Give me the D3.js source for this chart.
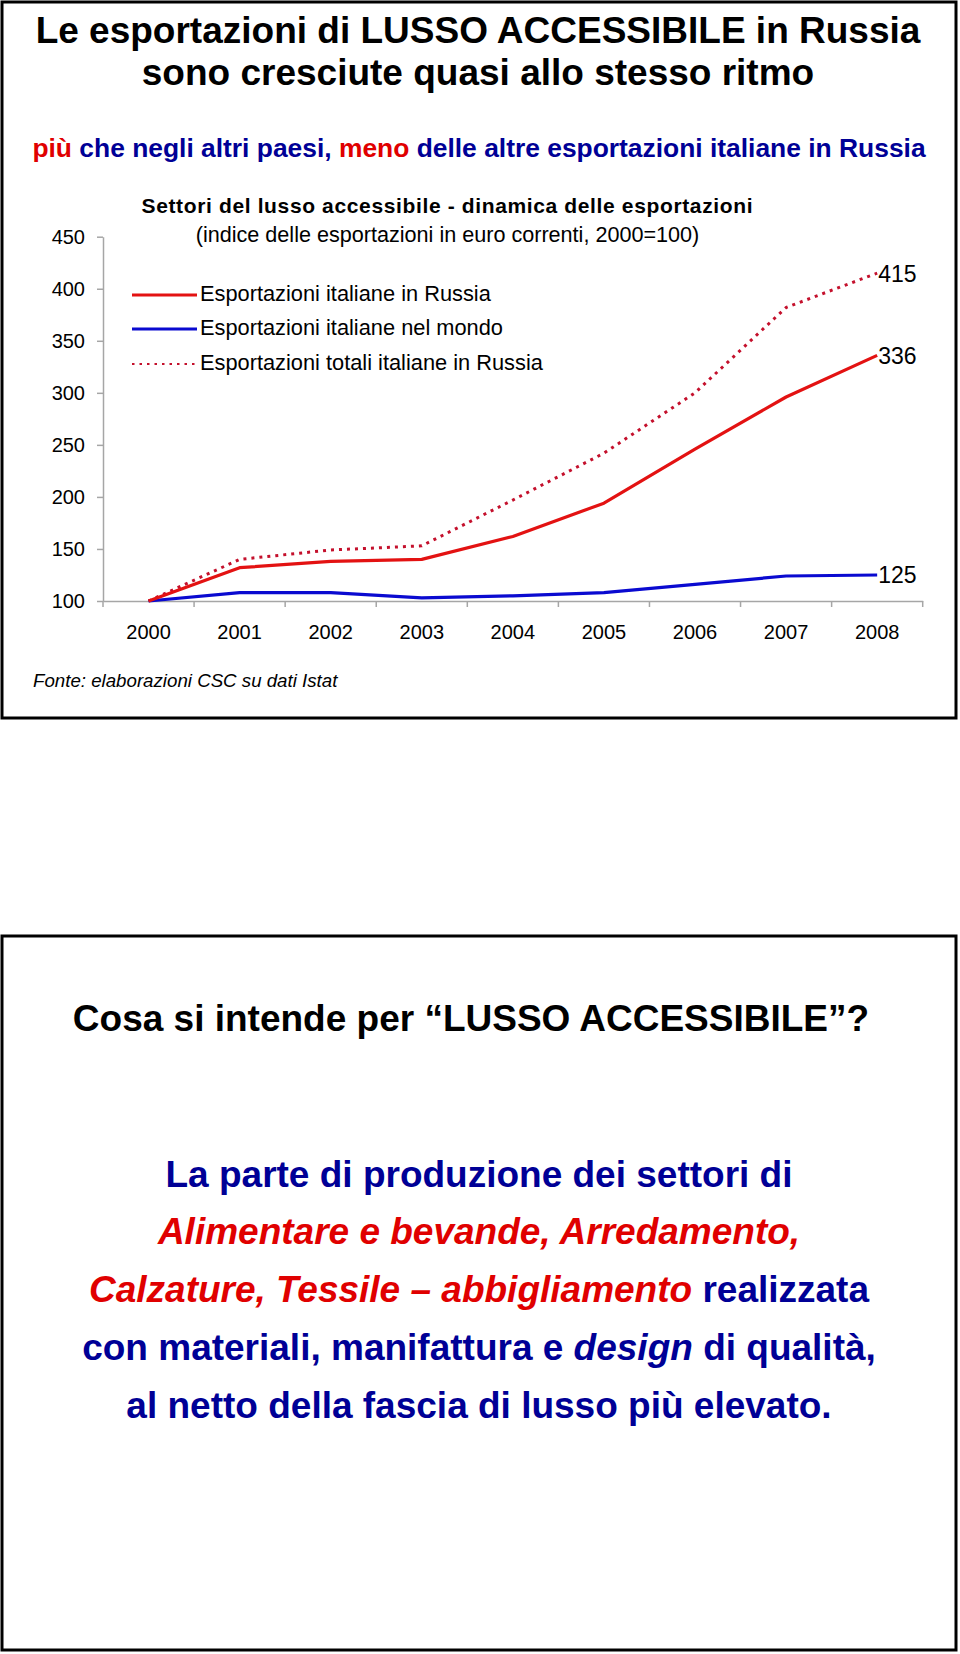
<!DOCTYPE html>
<html>
<head>
<meta charset="utf-8">
<script src="https://cdn.jsdelivr.net/npm/d3@7"></script>
<style>
  html, body { margin: 0; padding: 0; background: #fff; }
  svg { display: block; font-family: "Liberation Sans", Arial, sans-serif; }
</style>
</head>
<body>
<div id="chart"></div>
<script>
// values (index, 2000 = 100)
const years = ['2000', '2001', '2002', '2003', '2004', '2005', '2006', '2007', '2008'];
const russiaLusso = [100, 132, 138, 140, 162, 194, 246, 296, 336];
const mondoLusso = [100, 108, 108, 103, 105, 108, 116, 124, 125];
const russiaTotale = [100, 140, 149, 153, 197, 242, 300, 382, 415];
const yTicks = [100, 150, 200, 250, 300, 350, 400, 450];

const seriesNames = [
  'Esportazioni italiane in Russia',
  'Esportazioni italiane nel mondo',
  'Esportazioni totali italiane in Russia'
];

const RED = '#e31212';
const BLUE = '#0a0ad0';
const DOT_RED = '#c4102c';
const NAVY = '#000096';
const TXT_RED = '#e00000';

const W = 960, H = 1654;

const svg = d3.select('#chart')
  .append('svg')
  .attr('width', W)
  .attr('height', H);

// ---- panel frames
svg.append('rect')
  .attr('x', 2).attr('y', 2)
  .attr('width', 954).attr('height', 716)
  .attr('fill', 'none').attr('stroke', '#000').attr('stroke-width', 3);

svg.append('rect')
  .attr('x', 2).attr('y', 936)
  .attr('width', 954).attr('height', 714)
  .attr('fill', 'none').attr('stroke', '#000').attr('stroke-width', 3);

// ---- headings of the top panel
svg.append('text')
  .attr('x', 478).attr('y', 43)
  .attr('text-anchor', 'middle')
  .attr('font-size', 37).attr('font-weight', 'bold')
  .text('Le esportazioni di LUSSO ACCESSIBILE in Russia');

svg.append('text')
  .attr('x', 478).attr('y', 85)
  .attr('text-anchor', 'middle')
  .attr('font-size', 37).attr('font-weight', 'bold')
  .text('sono cresciute quasi allo stesso ritmo');

const sub = svg.append('text')
  .attr('x', 479).attr('y', 157)
  .attr('text-anchor', 'middle')
  .attr('font-size', 26.4).attr('font-weight', 'bold');
[['più', TXT_RED], [' che negli altri paesi, ', NAVY], ['meno', TXT_RED],
 [' delle altre esportazioni italiane in Russia', NAVY]]
  .forEach(([t, c]) => sub.append('tspan').attr('fill', c).text(t));

// ---- chart
const x = d3.scaleBand().domain(years).range([103, 922.7]);
const y = d3.scaleLinear().domain([100, 450]).range([601, 236.7]);

svg.append('text')
  .attr('x', 447).attr('y', 213)
  .attr('text-anchor', 'middle')
  .attr('font-size', 21).attr('font-weight', 'bold')
  .attr('textLength', 611).attr('lengthAdjust', 'spacing')
  .text('Settori del lusso accessibile - dinamica delle esportazioni');

svg.append('text')
  .attr('x', 447.5).attr('y', 241.5)
  .attr('text-anchor', 'middle')
  .attr('font-size', 21.6)
  .text('(indice delle esportazioni in euro correnti, 2000=100)');

// y axis
const yAxis = svg.append('g')
  .attr('transform', 'translate(103,0)')
  .call(d3.axisLeft(y).tickValues(yTicks).tickSize(6).tickSizeOuter(0).tickPadding(12));
yAxis.select('.domain').attr('stroke', '#a6a6a6').attr('stroke-width', 1.5);
yAxis.selectAll('.tick line').attr('stroke', '#a6a6a6').attr('stroke-width', 1.5);
yAxis.selectAll('.tick text')
  .attr('font-size', 20).attr('fill', '#000')
  .attr('font-family', '"Liberation Sans", Arial, sans-serif');

// x axis: labels centred in each band, ticks on the band edges
const xAxis = svg.append('g')
  .attr('transform', 'translate(0,601)')
  .call(d3.axisBottom(x).tickSize(0).tickSizeOuter(0).tickPadding(24));
xAxis.select('.domain').attr('stroke', '#a6a6a6').attr('stroke-width', 1.5);
xAxis.selectAll('.tick text')
  .attr('font-size', 20).attr('fill', '#000')
  .attr('font-family', '"Liberation Sans", Arial, sans-serif');

const edges = years.map(d => x(d)).concat([x(years[years.length - 1]) + x.bandwidth()]);
svg.append('g').selectAll('line')
  .data(edges)
  .enter()
  .append('line')
  .attr('x1', d => d).attr('x2', d => d)
  .attr('y1', 601).attr('y2', 607)
  .attr('stroke', '#a6a6a6').attr('stroke-width', 1.5);

// lines
const cx = i => x(years[i]) + x.bandwidth() / 2;
const line = d3.line().x((d, i) => cx(i)).y(d => y(d));

const series = [
  { values: russiaTotale, color: DOT_RED, width: 3, dash: '3,5' },
  { values: mondoLusso, color: BLUE, width: 3.2, dash: null },
  { values: russiaLusso, color: RED, width: 3.2, dash: null }
];

svg.append('g').selectAll('path')
  .data(series)
  .enter()
  .append('path')
  .attr('d', d => line(d.values))
  .attr('fill', 'none')
  .attr('stroke', d => d.color)
  .attr('stroke-width', d => d.width)
  .attr('stroke-dasharray', d => d.dash)
  .attr('stroke-linejoin', 'round');

// end labels
const last = years.length - 1;
svg.append('g').selectAll('text')
  .data([russiaTotale[last], russiaLusso[last], mondoLusso[last]])
  .enter()
  .append('text')
  .attr('x', cx(last) + 1)
  .attr('y', d => y(d))
  .attr('dy', '0.37em')
  .attr('font-size', 23)
  .text(d => d);

// legend
const legend = [
  { name: seriesNames[0], color: RED, width: 3.2, dash: null, y: 295 },
  { name: seriesNames[1], color: BLUE, width: 3.2, dash: null, y: 329 },
  { name: seriesNames[2], color: DOT_RED, width: 2, dash: '2.5,5', y: 364 }
];
const lg = svg.append('g').selectAll('g')
  .data(legend)
  .enter()
  .append('g');
lg.append('line')
  .attr('x1', 132).attr('x2', 197)
  .attr('y1', d => d.y).attr('y2', d => d.y)
  .attr('stroke', d => d.color)
  .attr('stroke-width', d => d.width)
  .attr('stroke-dasharray', d => d.dash);
lg.append('text')
  .attr('x', 200)
  .attr('y', d => d.y + 6)
  .attr('font-size', 21.8)
  .text(d => d.name);

svg.append('text')
  .attr('x', 33).attr('y', 687)
  .attr('font-size', 18.7).attr('font-style', 'italic')
  .text('Fonte: elaborazioni CSC su dati Istat');

// ---- bottom panel
svg.append('text')
  .attr('x', 471).attr('y', 1031)
  .attr('text-anchor', 'middle')
  .attr('font-size', 37).attr('font-weight', 'bold')
  .text('Cosa si intende per \u201CLUSSO ACCESSIBILE\u201D?');

const bodyLines = [
  [['La parte di produzione dei settori di', NAVY, false]],
  [['Alimentare e bevande, Arredamento,', TXT_RED, true]],
  [['Calzature, Tessile \u2013 abbigliamento', TXT_RED, true], [' realizzata', NAVY, false]],
  [['con materiali, manifattura e ', NAVY, false], ['design', NAVY, true], [' di qualità,', NAVY, false]],
  [['al netto della fascia di lusso più elevato.', NAVY, false]]
];
const bodyY = [1186.5, 1243.5, 1301.5, 1359.5, 1417.5];

svg.append('g').selectAll('text')
  .data(bodyLines)
  .enter()
  .append('text')
  .attr('x', 479)
  .attr('y', (d, i) => bodyY[i])
  .attr('text-anchor', 'middle')
  .attr('font-size', 37).attr('font-weight', 'bold')
  .each(function (segs) {
    const t = d3.select(this);
    segs.forEach(([txt, col, it]) => {
      t.append('tspan')
        .attr('fill', col)
        .attr('font-style', it ? 'italic' : 'normal')
        .text(txt);
    });
  });
</script>
</body>
</html>
